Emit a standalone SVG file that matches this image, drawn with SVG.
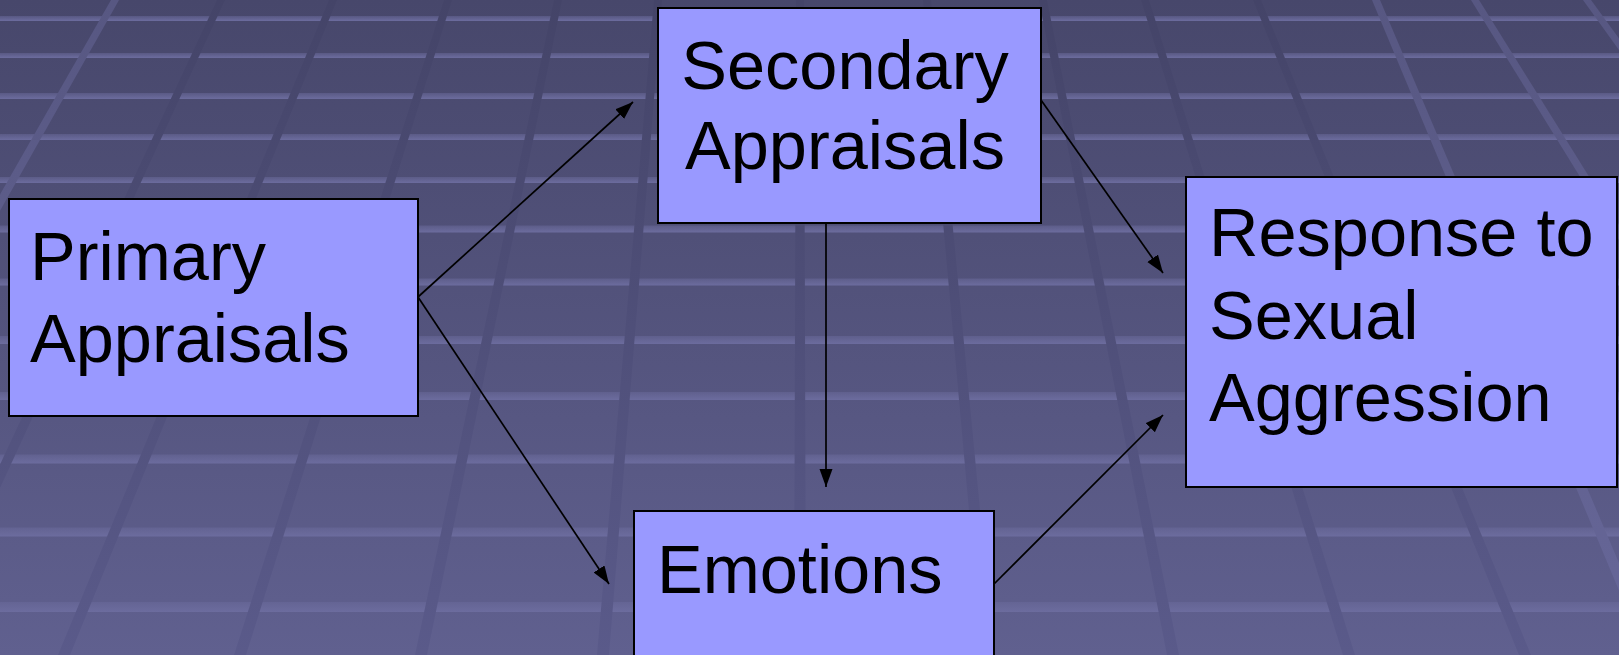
<svg xmlns="http://www.w3.org/2000/svg" width="1619" height="655" viewBox="0 0 1619 655">
<defs>
<linearGradient id="bg" x1="0" y1="0" x2="0" y2="655" gradientUnits="userSpaceOnUse">
<stop offset="0" stop-color="#47476b"/>
<stop offset="1" stop-color="#60608f"/>
</linearGradient>
<linearGradient id="stripe" x1="0" y1="0" x2="0" y2="1">
<stop offset="0" stop-color="#6c6c9e" stop-opacity="0.45"/>
<stop offset="1" stop-color="#6c6c9e" stop-opacity="1"/>
</linearGradient>
<linearGradient id="dark" x1="0" y1="0" x2="0" y2="655" gradientUnits="userSpaceOnUse">
<stop offset="0" stop-color="#444468"/>
<stop offset="1" stop-color="#5a5a8a"/>
</linearGradient>
<linearGradient id="light" x1="0" y1="0" x2="0" y2="655" gradientUnits="userSpaceOnUse">
<stop offset="0" stop-color="#575782"/>
<stop offset="1" stop-color="#676799"/>
</linearGradient>
<marker id="arrow" markerUnits="userSpaceOnUse" markerWidth="19" markerHeight="14" refX="18" refY="6.5" orient="auto">
<path d="M0,0 L18,6.5 L0,13 z" fill="#000"/>
</marker>
<style>
.stripe{fill:url(#stripe)}
.dk{fill:url(#dark)}
.lt{fill:url(#light)}
.box{fill:#9999ff;stroke:#000;stroke-width:2}
.lbl{font-family:"Liberation Sans",Arial,sans-serif;font-size:68.5px;fill:#000}
.conn{stroke:#000;stroke-width:1.7;fill:none;marker-end:url(#arrow)}
</style>
</defs>
<g id="background">
<rect x="0" y="0" width="1619" height="655" fill="url(#bg)"/>
<rect class="stripe" x="0" y="16" width="1619" height="5"/>
<rect class="stripe" x="0" y="53" width="1619" height="5"/>
<rect class="stripe" x="0" y="93" width="1619" height="6"/>
<rect class="stripe" x="0" y="134" width="1619" height="6"/>
<rect class="stripe" x="0" y="177" width="1619" height="6"/>
<rect class="stripe" x="0" y="225.5" width="1619" height="7"/>
<rect class="stripe" x="0" y="278.5" width="1619" height="7"/>
<rect class="stripe" x="0" y="336" width="1619" height="8"/>
<rect class="stripe" x="0" y="392" width="1619" height="8"/>
<rect class="stripe" x="0" y="454.5" width="1619" height="9"/>
<rect class="stripe" x="0" y="527.5" width="1619" height="9"/>
<rect class="stripe" x="0" y="602" width="1619" height="10"/>
<polygon class="lt" points="111,0 119,0 -251,655 -263,655"/>
<polygon class="dk" points="217,0 225,0 -77,655 -89,655"/>
<polygon class="dk" points="329,0 337,0 70,655 58,655"/>
<polygon class="dk" points="444,0 452,0 246,655 234,655"/>
<polygon class="dk" points="554,0 562,0 427,655 415,655"/>
<polygon class="dk" points="654,0 662,0 609,655 597,655"/>
<polygon class="dk" points="796,0 804,0 806,655 794,655"/>
<polygon class="dk" points="923,0 931,0 994,655 982,655"/>
<polygon class="dk" points="1039,0 1047,0 1179,655 1167,655"/>
<polygon class="dk" points="1141,0 1149,0 1355,655 1343,655"/>
<polygon class="dk" points="1253,0 1261,0 1531,655 1519,655"/>
<polygon class="lt" points="1372,0 1380,0 1658,655 1646,655"/>
<polygon class="lt" points="1471,0 1479,0 1887,655 1875,655"/>
<polygon class="lt" points="1583,0 1591,0 2066,655 2054,655"/>
</g>
<g id="connectors">
<line class="conn" x1="418" y1="297" x2="633" y2="102"/>
<line class="conn" x1="418" y1="297" x2="609" y2="584"/>
<line class="conn" x1="826" y1="223" x2="826" y2="487"/>
<line class="conn" x1="1041" y1="100" x2="1163" y2="273"/>
<line class="conn" x1="994" y1="584" x2="1163" y2="415"/>
</g>
<g id="node-primary">
<rect class="box" x="9" y="199" width="409" height="217"/>
<text class="lbl" x="30" y="280">Primary</text>
<text class="lbl" x="30" y="362">Appraisals</text>
</g>
<g id="node-secondary">
<rect class="box" x="658" y="8" width="383" height="215"/>
<text class="lbl" x="845" y="89" text-anchor="middle">Secondary</text>
<text class="lbl" x="845" y="169" text-anchor="middle">Appraisals</text>
</g>
<g id="node-emotions">
<rect class="box" x="634" y="511" width="360" height="160"/>
<text class="lbl" x="657" y="593">Emotions</text>
</g>
<g id="node-response">
<rect class="box" x="1186" y="177" width="431" height="310"/>
<text class="lbl" x="1209" y="256">Response to</text>
<text class="lbl" x="1209" y="339">Sexual</text>
<text class="lbl" x="1209" y="421">Aggression</text>
</g>
</svg>
